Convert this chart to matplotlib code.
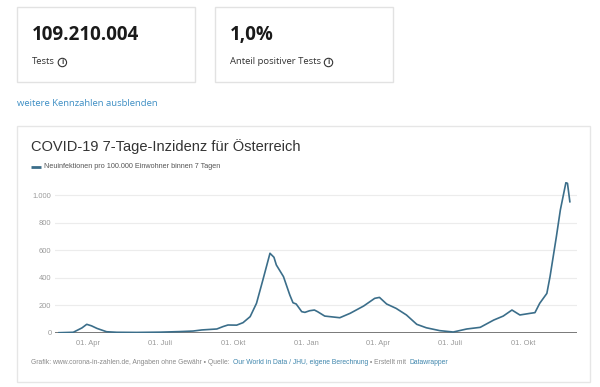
import matplotlib
matplotlib.use("Agg")
import matplotlib.pyplot as plt
import matplotlib.dates as mdates
from matplotlib.patches import Rectangle
import numpy as np
import pandas as pd

# ---------------- data ----------------
dates = ["2020-02-24", "2020-03-13", "2020-03-24", "2020-03-30", "2020-04-05", "2020-04-12",
         "2020-04-24", "2020-05-07", "2020-06-01", "2020-07-01", "2020-07-25", "2020-08-11",
         "2020-08-22", "2020-09-10", "2020-09-18", "2020-09-24", "2020-10-05", "2020-10-13",
         "2020-10-22", "2020-10-30", "2020-11-07", "2020-11-16", "2020-11-21", "2020-11-24",
         "2020-12-03", "2020-12-11", "2020-12-15", "2020-12-19", "2020-12-26", "2020-12-30",
         "2021-01-05", "2021-01-11", "2021-01-15", "2021-01-24", "2021-02-12", "2021-02-25",
         "2021-03-14", "2021-03-28", "2021-04-03", "2021-04-12", "2021-04-24", "2021-05-07",
         "2021-05-20", "2021-06-01", "2021-06-18", "2021-07-05", "2021-07-22", "2021-08-08",
         "2021-08-25", "2021-09-06", "2021-09-17", "2021-09-27", "2021-10-10", "2021-10-16",
         "2021-10-22", "2021-10-31", "2021-11-04", "2021-11-12", "2021-11-17", "2021-11-24",
         "2021-11-26", "2021-11-29"]
values = [0, 3, 35, 61, 50, 31,
          7, 3, 2, 4, 8, 12,
          20, 27, 45, 56, 55, 73,
          117, 214, 383, 578, 549, 493,
          408, 274, 218, 209, 153, 148,
          160, 165, 153, 121, 109, 141,
          194, 250, 257, 209, 177, 129,
          61, 36, 15, 5, 27, 39,
          92, 121, 165, 129, 141, 146,
          214, 286, 408, 699, 893, 1092,
          1087, 953]

y_ticks = [0, 200, 400, 600, 800, 1000]
y_tick_labels = ["0", "200", "400", "600", "800", "1.000"]
x_ticks = ["2020-04-01", "2020-07-01", "2020-10-01", "2021-01-01",
           "2021-04-01", "2021-07-01", "2021-10-01"]
x_tick_labels = ["01. Apr", "01. Juli", "01. Okt", "01. Jan", "01. Apr", "01. Juli", "01. Okt"]

kpi_values = ["109.210.004", "1,0%"]
kpi_labels = ["Tests", "Anteil positiver Tests"]

title = "COVID-19 7-Tage-Inzidenz für Österreich"
legend_label = "Neuinfektionen pro 100.000 Einwohner binnen 7 Tagen"

# ---------------- figure ----------------
W, H = 600, 387
fig = plt.figure(figsize=(W / 100, H / 100), dpi=100)
fig.patch.set_facecolor("white")

bg = fig.add_axes([0, 0, 1, 1])
bg.set_xlim(0, W)
bg.set_ylim(H, 0)
bg.axis("off")

card_font = ["Open Sans", "DejaVu Sans"]
chart_font = ["Liberation Sans", "DejaVu Sans"]

fig.canvas.draw()
renderer = fig.canvas.get_renderer()

# KPI cards
cards_x = [17, 215]
for cx, val, lab in zip(cards_x, kpi_values, kpi_labels):
    bg.add_patch(Rectangle((cx, 7), 178, 75, facecolor="white", edgecolor="#e2e2e2", lw=1))
    bg.text(cx + 15, 35, val, fontsize=13.5, fontweight="bold", color="#1a1a1a",
            family=card_font, va="center", ha="left")
    t = bg.text(cx + 15, 62, lab, fontsize=6.8, color="#333333",
                family=card_font, va="center", ha="left")
    bb = t.get_window_extent(renderer=renderer)
    ix = bb.x1 + 7.5
    circ = plt.Circle((ix, H - 62.5), 4.2, transform=None, fill=False,
                      edgecolor="#333333", lw=0.8)
    fig.add_artist(circ)
    fig.text(ix / W, (H - 62.5) / H, "i", fontsize=5, color="#333333", ha="center",
             va="center", family=card_font, fontweight="bold")

bg.text(17, 104, "weitere Kennzahlen ausblenden", fontsize=6.8, color="#3d8ec4",
        family=card_font, va="center", ha="left")

# chart box
bg.add_patch(Rectangle((17, 126), 573, 256, facecolor="white", edgecolor="#e6e6e6", lw=1))
bg.text(31, 147, title, fontsize=10.5, color="#333333", family=chart_font,
        va="center", ha="left")
bg.plot([31, 41], [167, 167], color="#3b6e8a", lw=2, solid_capstyle="butt")
bg.text(44, 167, legend_label, fontsize=5.2, color="#555555", family=chart_font,
        va="center", ha="left")

# footer
parts = [("Grafik: www.corona-in-zahlen.de, Angaben ohne Gewähr • Quelle: ", "#8a8a8a"),
         ("Our World in Data / JHU, eigene Berechnung", "#3f86ad"),
         (" • Erstellt mit ", "#8a8a8a"),
         ("Datawrapper", "#3f86ad")]
x = 31
for txt, col in parts:
    t = bg.text(x, 362, txt, fontsize=4.9, color=col, family=chart_font,
                va="center", ha="left")
    bb = t.get_window_extent(renderer=renderer)
    x += bb.width
    if txt.endswith(" "):
        x += 1.2

# ---------------- chart axes ----------------
y0_px = 332.7
px_per_unit = (332.7 - 195.3) / 1000
ymax = 1100
top_px = y0_px - ymax * px_per_unit
left_px, right_px = 55, 577
ax = fig.add_axes([left_px / W, (H - y0_px) / H, (right_px - left_px) / W,
                   (y0_px - top_px) / H])
ax.set_facecolor("none")

d = pd.to_datetime(dates)
ax.plot(d, values, color="#3b6e8a", lw=1.2, zorder=3, solid_joinstyle="round")

ax.set_ylim(0, ymax)
ax.set_xlim(pd.Timestamp("2020-02-19"), pd.Timestamp("2021-12-08"))
ax.set_yticks(y_ticks)
ax.set_yticklabels(y_tick_labels)
ax.set_xticks(pd.to_datetime(x_ticks))
ax.set_xticklabels(x_tick_labels)
for lab in ax.get_yticklabels() + ax.get_xticklabels():
    lab.set_family(chart_font)
    lab.set_fontsize(5.4)
    lab.set_color("#9a9a9a")
ax.tick_params(axis="both", length=0, pad=2.5)
ax.tick_params(axis="x", pad=5)
for yv in y_ticks[1:]:
    ax.axhline(yv, color="#ececec", lw=0.8, zorder=1)
ax.axhline(0, color="#6e6e6e", lw=1.3, zorder=2)
for s in ax.spines.values():
    s.set_visible(False)

fig.savefig("out.png", dpi=100, facecolor="white")
